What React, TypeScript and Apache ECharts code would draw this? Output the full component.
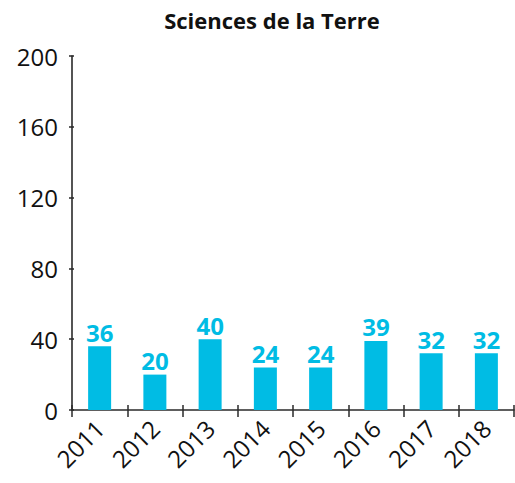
import React, { useEffect, useRef } from "react";
import * as echarts from "echarts";

const title = "Sciences de la Terre";
const years = ["2011", "2012", "2013", "2014", "2015", "2016", "2017", "2018"];
const values = [36, 20, 40, 24, 24, 39, 32, 32];
const yMin = 0;
const yMax = 200;
const yInterval = 40;

const FONT = "'Open Sans', 'Noto Sans', sans-serif";
const AXIS = "#2a2a2a";

export default function App() {
  const ref = useRef<HTMLDivElement>(null);
  useEffect(() => {
    const chart = echarts.init(ref.current!, null, { renderer: "svg" });
    chart.setOption({
      animation: false,
      title: {
        text: title,
        top: 4,
        left: 267,
        textAlign: "center",
        textStyle: { fontFamily: FONT, fontSize: 22, fontWeight: "bold", color: "#111" },
      },
      grid: { left: 72, right: 1, top: 56, bottom: 73, containLabel: false },
      xAxis: [
        {
          type: "category",
          data: years,
          axisLine: { lineStyle: { color: AXIS, width: 1.6 } },
          axisTick: { show: true, length: 7, inside: false, lineStyle: { color: AXIS, width: 1.5 } },
          axisLabel: { rotate: 45, fontFamily: FONT, fontSize: 24, color: "#111", margin: 14 },
        },
        {
          type: "category",
          data: years,
          position: "bottom",
          axisLine: { show: false },
          axisTick: { show: true, length: 5, inside: true, lineStyle: { color: AXIS, width: 1.5 } },
          axisLabel: { show: false },
        },
      ],
      yAxis: [
        {
          type: "value",
          min: yMin,
          max: yMax,
          interval: yInterval,
          splitLine: { show: false },
          axisLine: { show: true, lineStyle: { color: AXIS, width: 1.6 } },
          axisTick: { show: true, length: 3, lineStyle: { color: AXIS, width: 1.5 } },
          axisLabel: { fontFamily: FONT, fontSize: 24, color: "#111", margin: 14 },
        },
        {
          type: "value",
          position: "left",
          min: yMin,
          max: yMax,
          interval: yInterval,
          splitLine: { show: false },
          axisLine: { show: false },
          axisTick: { show: true, inside: true, length: 2, lineStyle: { color: AXIS, width: 1.5 } },
          axisLabel: { show: false },
        },
      ],
      series: [
        {
          type: "bar",
          data: values,
          barWidth: 23,
          itemStyle: { color: "#00BCE4" },
          label: {
            show: true,
            position: "top",
            distance: 2,
            fontFamily: FONT,
            fontSize: 24,
            fontWeight: "bold",
            color: "#00BCE4",
          },
        },
      ],
    });
    return () => chart.dispose();
  }, []);
  return <div ref={ref} style={{ width: 515, height: 483, position: "absolute", left: 0, top: 0 }} />;
}
